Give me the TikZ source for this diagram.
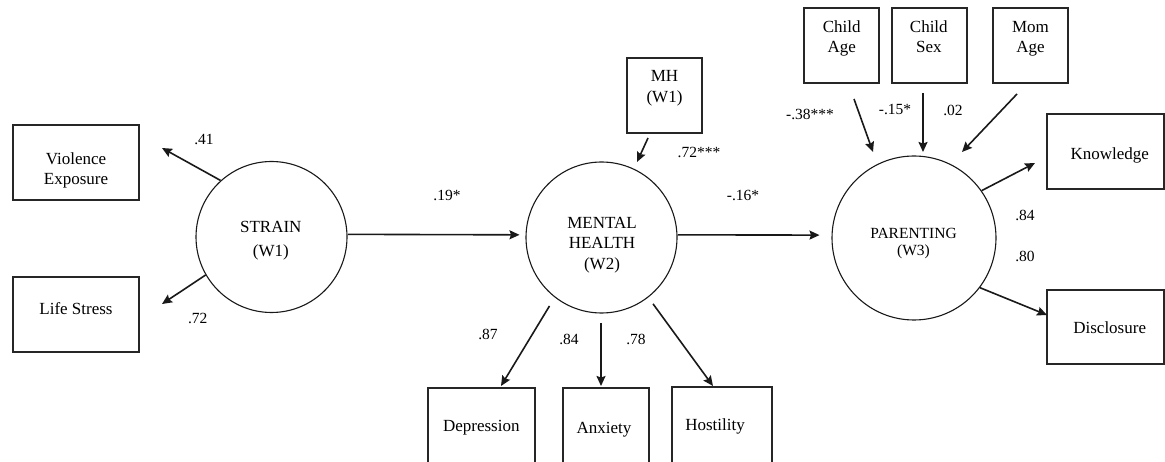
\documentclass[tikz,border=0pt]{standalone}
\usepackage{fontspec}
\setmainfont{Liberation Serif}
\usetikzlibrary{arrows.meta,calc}
\newcommand{\twol}[3][0pt]{\begin{tabular}[t]{@{}c@{}}#2\\[#1]#3\end{tabular}}
\tikzset{
  box/.style={draw=black!85, line width=1.2pt, inner sep=0pt},
  latent/.style={draw=black!90, circle, line width=1.1pt, inner sep=0pt},
  txt/.style={anchor=base, inner sep=0pt, font=\fontsize{17}{20.5}\selectfont},
  coef/.style={anchor=base, inner sep=0pt, font=\fontsize{15.5}{18}\selectfont},
  arr/.style={-{Stealth[length=10pt,width=9pt,inset=1.5pt]}, line width=1.6pt, draw=black!90},
}
\begin{document}
\begin{tikzpicture}[x=1pt,y=-1pt]
\useasboundingbox (0,0) rectangle (1165,462);
\clip (0,0) rectangle (1165,462);
% boxes
\node[box, minimum width=126pt, minimum height=75pt] (viol) at (76,162.5) {};
\node[box, minimum width=126pt, minimum height=75pt] (life) at (76,314.5) {};
\node[box, minimum width=75pt, minimum height=75pt] (mhw1) at (664.5,95.5) {};
\node[box, minimum width=107pt, minimum height=100pt] (dep) at (481.5,438) {};
\node[box, minimum width=86pt, minimum height=100pt] (anx) at (606,438) {};
\node[box, minimum width=100pt, minimum height=100pt] (host) at (722,437) {};
\node[box, minimum width=75pt, minimum height=75pt] (chage) at (841.5,45.5) {};
\node[box, minimum width=75pt, minimum height=75pt] (chsex) at (929.5,45.5) {};
\node[box, minimum width=75pt, minimum height=75pt] (momage) at (1030.5,45.5) {};
\node[box, minimum width=117pt, minimum height=75pt] (know) at (1105.5,151.5) {};
\node[box, minimum width=117pt, minimum height=74pt] (disc) at (1105.5,327) {};
% latent
\node[latent, minimum size=151pt] (strain) at (271.5,237) {};
\node[latent, minimum size=151pt] (mh) at (601.5,237.5) {};
\node[latent, minimum size=164pt] (par) at (914,238) {};
% texts
\node[txt] at (76,164.5) {\twol{Violence}{Exposure}};
\node[txt] at (76,315) {Life Stress};
\node[txt] at (664.5,81.7) {\twol{MH}{(W1)}};
\node[txt] at (481.3,431.7) {Depression};
\node[txt] at (604,433.3) {Anxiety};
\node[txt] at (715,430) {Hostility};
\node[txt] at (841.7,32.3) {\twol{Child}{Age}};
\node[txt] at (928.8,32.3) {\twol{Child}{Sex}};
\node[txt] at (1030.5,32.3) {\twol{Mom}{Age}};
\node[txt] at (1109.7,159.3) {Knowledge};
\node[txt] at (1109.7,333.3) {Disclosure};
\node[txt] at (270.8,232.7) {\twol[3.5pt]{STRAIN}{(W1)}};
\node[txt] at (602,228.3) {\begin{tabular}[t]{@{}c@{}}MENTAL\\HEALTH\\(W2)\end{tabular}};
\node[coef, font=\fontsize{15.5}{17}\selectfont] at (913.5,238.3) {\twol{PARENTING}{(W3)}};
% coordinates for free ends
\coordinate (tviol) at (162,148);
\coordinate (tlife) at (162,304);
\coordinate (smhw1) at (648,138);
\coordinate (tmhw1) at (637,162);
\coordinate (tdep) at (501,386);
\coordinate (sanx) at (601,323);
\coordinate (tanx) at (601,386);
\coordinate (thost) at (713,386);
\coordinate (schage) at (854,99);
\coordinate (tchage) at (873,152);
\coordinate (schsex) at (923,93);
\coordinate (tchsex) at (923,152);
\coordinate (smom) at (1017,94);
\coordinate (tmom) at (962,152);
\coordinate (tknow) at (1035,163);
\coordinate (tdisc) at (1047,315);
% arrows
\draw[arr] (strain.132) -- (tviol);
\draw[arr] (strain.210) -- (tlife);
\draw[arr, shorten >=6pt] (strain.2) -- (mh.178);
\draw[arr, shorten >=12pt] (mh.2) -- (par.178);
\draw[arr] (smhw1) -- (tmhw1);
\draw[arr, shorten <=10pt] (mh.232) -- (tdep);
\draw[arr] (sanx) -- (tanx);
\draw[arr, shorten <=8pt] (mh.-52) -- (thost);
\draw[arr] (schage) -- (tchage);
\draw[arr] (schsex) -- (tchsex);
\draw[arr] (smom) -- (tmom);
\draw[arr] (par.35) -- (tknow);
\draw[arr] (par.-37) -- (tdisc);
% coefficients
\node[coef] at (204,144.3) {.41};
\node[coef] at (197.7,324) {.72};
\node[coef] at (447,200.7) {.19*};
\node[coef] at (743,200.7) {-.16*};
\node[coef] at (699,158) {.72***};
\node[coef] at (488,339.3) {.87};
\node[coef] at (569,344.3) {.84};
\node[coef] at (636,344.3) {.78};
\node[coef] at (810,119.3) {-.38***};
\node[coef] at (895,115) {-.15*};
\node[coef] at (953,115.3) {.02};
\node[coef] at (1025,220.7) {.84};
\node[coef] at (1025,261.7) {.80};
\end{tikzpicture}
\end{document}
